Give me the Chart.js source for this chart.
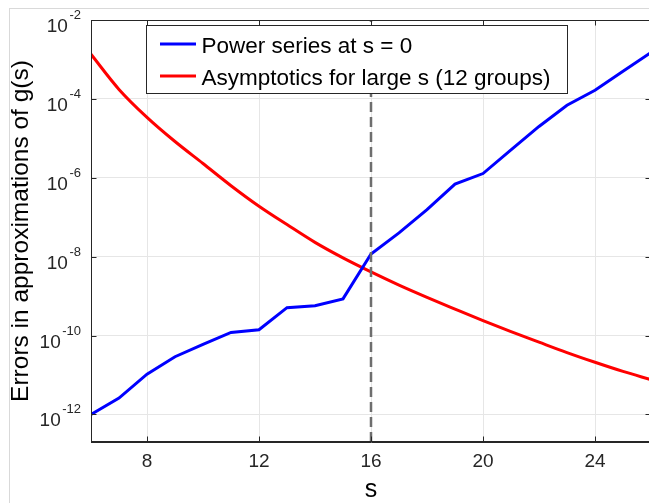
<!DOCTYPE html>
<html>
<head>
<meta charset="utf-8">
<script src="https://cdn.jsdelivr.net/npm/chart.js@4.4.1/dist/chart.umd.min.js"></script>
<style>
  html, body { margin: 0; padding: 0; background: #fff; }
  #wrap { position: relative; width: 649px; height: 503px; overflow: hidden; }
  #frame { position: absolute; left: 9px; top: 8px; width: 700px; height: 600px; border: 1px solid #d9d9d9; }
  #chart { position: absolute; left: 0; top: 0; }
</style>
</head>
<body>
<div id="wrap">
  <div id="frame"></div>
  <canvas id="chart" width="660" height="503"></canvas>
</div>
<script>
// data
const sValues = [6,7,8,9,10,11,12,13,14,15,16,17,18,19,20,21,22,23,24,25,26];
const powerSeriesErr = [1.0e-12, 2.6e-12, 1.05e-11, 2.9e-11, 6.0e-11, 1.2e-10, 1.4e-10, 5.1e-10, 5.7e-10, 8.5e-10,
  1.17e-8, 4.0e-8, 1.55e-7, 6.9e-7, 1.28e-6, 5.1e-6, 2.0e-5, 6.9e-5, 1.66e-4, 5.0e-4, 1.5e-3];
const asymptoticErr = [1.35e-3, 1.74e-4, 3.4e-5, 8.3e-6, 2.3e-6, 6.3e-7, 1.9e-7, 6.5e-8, 2.3e-8, 9.3e-9,
  4.1e-9, 1.9e-9, 9.3e-10, 4.7e-10, 2.4e-10, 1.26e-10, 6.8e-11, 3.7e-11, 2.1e-11, 1.23e-11, 7.6e-12];
const switchS = 16;
const xTicks = [8, 12, 16, 20, 24];
const yTickExps = [-12, -10, -8, -6, -4, -2];
const xRange = [6, 26];
const yRange = [2e-13, 1e-2];

const FONT = '"Liberation Sans", Arial, Helvetica, sans-serif';
const axisColor = '#262626';

const toPts = arr => sValues.map((s, i) => ({ x: s, y: arr[i] }));

// box, inward ticks, y labels with exponents, legend inside plot
const matlabAxes = {
  id: 'matlabAxes',
  afterDatasetsDraw(chart) {
    const { ctx, chartArea: a, scales: { x, y } } = chart;
    ctx.save();
    ctx.strokeStyle = axisColor;
    ctx.lineWidth = 1;
    ctx.strokeRect(a.left + 0.5, a.top + 0.5, a.right - a.left - 1, a.bottom - a.top - 1);

    const tl = 5.5;
    ctx.beginPath();
    x.ticks.forEach(t => {
      const px = Math.round(x.getPixelForValue(t.value)) + 0.5;
      ctx.moveTo(px, a.top); ctx.lineTo(px, a.top + tl);
      ctx.moveTo(px, a.bottom); ctx.lineTo(px, a.bottom - tl);
    });
    y.ticks.forEach(t => {
      const py = Math.round(y.getPixelForValue(t.value)) + 0.5;
      ctx.moveTo(a.left, py); ctx.lineTo(a.left + tl, py);
      ctx.moveTo(a.right, py); ctx.lineTo(a.right - tl, py);
    });
    ctx.stroke();

    // y tick labels: 10^e
    ctx.fillStyle = axisColor;
    ctx.textBaseline = 'alphabetic';
    ctx.textAlign = 'left';
    y.ticks.forEach(t => {
      const py = y.getPixelForValue(t.value);
      const ex = String(Math.round(Math.log10(t.value)));
      ctx.font = '13px ' + FONT;
      const ew = ctx.measureText(ex).width;
      ctx.font = '19px ' + FONT;
      const bw = ctx.measureText('10').width;
      const right = a.left - 10;
      ctx.fillText('10', right - ew - 1.5 - bw, py + 12);
      ctx.font = '13px ' + FONT;
      ctx.fillText(ex, right - ew, py - 1);
    });

    // legend
    const lx = 146.5, ly = 25.5, lw = 421, lh = 68;
    ctx.fillStyle = '#fff';
    ctx.fillRect(lx, ly, lw, lh);
    ctx.strokeRect(lx, ly, lw, lh);
    const rows = chart.data.datasets.filter(d => d.label);
    rows.forEach((d, i) => {
      const cy = 44 + i * 32;
      ctx.strokeStyle = d.borderColor;
      ctx.lineWidth = 3;
      ctx.beginPath();
      ctx.moveTo(160, cy); ctx.lineTo(196, cy);
      ctx.stroke();
      ctx.fillStyle = '#000';
      ctx.font = '22.5px ' + FONT;
      ctx.fillText(d.label, 201.5, cy + 9);
    });
    ctx.restore();
  }
};

new Chart(document.getElementById('chart'), {
  type: 'line',
  data: {
    datasets: [
      {
        label: 'Power series at s = 0',
        data: toPts(powerSeriesErr),
        borderColor: '#0000ff',
        borderWidth: 3,
        pointRadius: 0,
        tension: 0,
        order: 1
      },
      {
        label: 'Asymptotics for large s (12 groups)',
        data: toPts(asymptoticErr),
        borderColor: '#ff0000',
        borderWidth: 3,
        pointRadius: 0,
        cubicInterpolationMode: 'monotone',
        order: 2
      },
      {
        label: '',
        data: [{ x: switchS, y: yRange[0] }, { x: switchS, y: yRange[1] }],
        borderColor: '#6e6e6e',
        borderWidth: 2.5,
        borderDash: [10, 5],
        pointRadius: 0,
        order: 0
      }
    ]
  },
  options: {
    responsive: false,
    animation: false,
    layout: { padding: { top: 20, right: 9, bottom: 0, left: 0 } },
    plugins: { legend: { display: false }, tooltip: { enabled: false } },
    scales: {
      x: {
        type: 'linear',
        min: xRange[0],
        max: xRange[1],
        afterBuildTicks: s => { s.ticks = xTicks.map(v => ({ value: v })); },
        afterFit: s => { s.height = 61; },
        grid: { color: '#e6e6e6', drawTicks: false },
        border: { color: axisColor, width: 1 },
        ticks: { color: axisColor, padding: 8, font: { family: FONT, size: 19 } },
        title: {
          display: true, text: 's', color: '#000',
          font: { family: FONT, size: 25, lineHeight: 1 },
          padding: { top: 0, bottom: 0 }
        }
      },
      y: {
        type: 'logarithmic',
        min: yRange[0],
        max: yRange[1],
        afterBuildTicks: s => { s.ticks = yTickExps.map(e => ({ value: Math.pow(10, e) })); },
        afterFit: s => { s.width = 91; },
        grid: { color: '#e6e6e6', drawTicks: false },
        border: { color: axisColor, width: 1 },
        ticks: { display: false },
        title: {
          display: true, text: 'Errors in approximations of g(s)', color: '#000',
          font: { family: FONT, size: 24.5, lineHeight: 1 },
          padding: { top: 9, bottom: 0 }
        }
      }
    }
  },
  plugins: [matlabAxes]
});
</script>
</body>
</html>
